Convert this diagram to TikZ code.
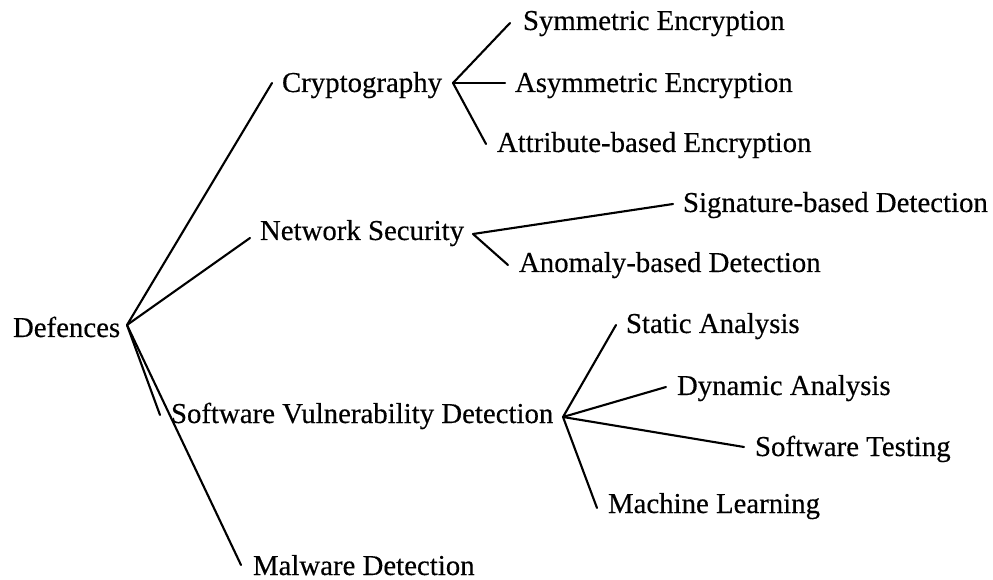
\documentclass[tikz,border=0pt]{standalone}
\usepackage{fontspec}
\setmainfont[FakeBold=0.35]{Liberation Serif}
\begin{document}
\begin{tikzpicture}[x=0.02cm,y=-0.02cm,
  lbl/.style={anchor=base west,inner sep=0pt,outer sep=0pt,font=\fontsize{16.4}{19}\selectfont},
  conn/.style={line width=1.2pt,line cap=round,line join=round}]
\useasboundingbox (0,0) rectangle (993,580);
% nodes
\node[lbl] (def) at (13,337) {Defences};
\node[lbl] (cry) at (282,92) {Cryptography};
\node[lbl] (sym) at (523,30) {Symmetric Encryption};
\node[lbl] (asy) at (515,92) {Asymmetric Encryption};
\node[lbl] (att) at (497,152) {Attribute-based Encryption};
\node[lbl] (net) at (260,240) {Network Security};
\node[lbl] (sig) at (683,212) {Signature-based Detection};
\node[lbl] (ano) at (519,272) {Anomaly-based Detection};
\node[lbl] (svd) at (171,423) {Software Vulnerability Detection};
\node[lbl] (sta) at (626,333) {Static Analysis};
\node[lbl] (dyn) at (677,395) {Dynamic Analysis};
\node[lbl] (tes) at (755,456) {Software Testing};
\node[lbl] (mac) at (608,513) {Machine Learning};
\node[lbl] (mal) at (253,575) {Malware Detection};
% connector points
\coordinate (def-o) at (127,325);
\coordinate (cry-i) at (272,83);
\coordinate (net-i) at (250,238);
\coordinate (svd-i) at (160,415);
\coordinate (mal-i) at (241,565);
\coordinate (cry-o) at (453,83);
\coordinate (sym-i) at (510,23);
\coordinate (asy-i) at (505,83);
\coordinate (att-i) at (486,144);
\coordinate (net-o) at (473,234);
\coordinate (sig-i) at (673,204);
\coordinate (ano-i) at (508,265);
\coordinate (svd-o) at (563,417);
\coordinate (sta-i) at (616,325);
\coordinate (dyn-i) at (666,387);
\coordinate (tes-i) at (744,447);
\coordinate (mac-i) at (597,508);
% connectors
\draw[conn] (def-o) -- (cry-i);
\draw[conn] (def-o) -- (net-i);
\draw[conn] (def-o) -- (svd-i);
\draw[conn] (def-o) -- (mal-i);
\draw[conn] (cry-o) -- (sym-i);
\draw[conn] (cry-o) -- (asy-i);
\draw[conn] (cry-o) -- (att-i);
\draw[conn] (net-o) -- (sig-i);
\draw[conn] (net-o) -- (ano-i);
\draw[conn] (svd-o) -- (sta-i);
\draw[conn] (svd-o) -- (dyn-i);
\draw[conn] (svd-o) -- (tes-i);
\draw[conn] (svd-o) -- (mac-i);
\end{tikzpicture}
\end{document}
